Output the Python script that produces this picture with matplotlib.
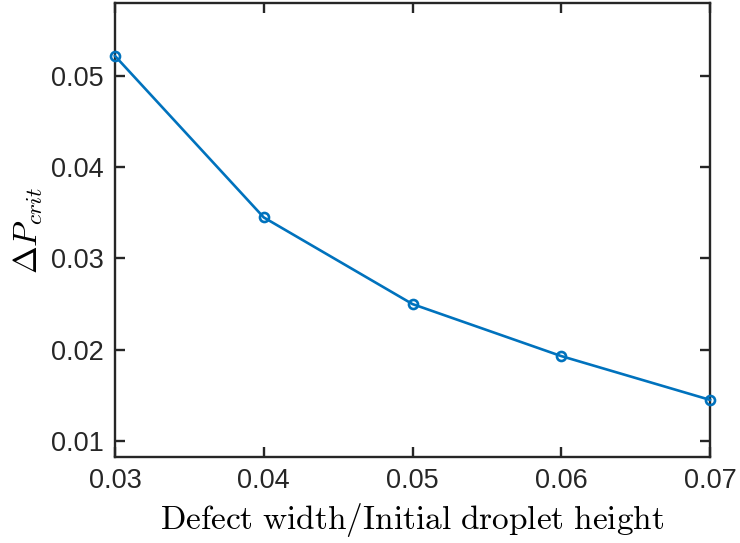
import matplotlib
matplotlib.use('Agg')
import matplotlib.pyplot as plt

# data
ratio = [0.03, 0.04, 0.05, 0.06, 0.07]
dp_crit = [0.0522, 0.0345, 0.0250, 0.0193, 0.0145]

xticks = [0.03, 0.04, 0.05, 0.06, 0.07]
yticks = [0.01, 0.02, 0.03, 0.04, 0.05]

plt.rcParams['font.family'] = ['Liberation Sans', 'DejaVu Sans']
plt.rcParams['mathtext.fontset'] = 'cm'

fig = plt.figure(figsize=(7.4, 5.43), dpi=100)
ax = fig.add_axes([0.1554, 0.1584, 0.8041, 0.8360])

ax.plot(ratio, dp_crit, '-o', color='#0072BD', lw=1.9, ms=6.5,
        mfc='none', mew=1.9, clip_on=False, zorder=3)

ax.set_xlim(0.03, 0.07)
ax.set_ylim(0.00824, 0.058)
ax.set_xticks(xticks)
ax.set_yticks(yticks)
ax.set_xticklabels(['%.2f' % v for v in xticks])
ax.set_yticklabels(['%.2f' % v for v in yticks])

for s in ax.spines.values():
    s.set_linewidth(1.7)
    s.set_color('#262626')
ax.tick_params(direction='in', length=7, width=1.7, color='#262626',
               labelsize=19.5, labelcolor='#262626', top=True, right=True,
               pad=8)

ax.set_xlabel(r'$\mathrm{Defect\ width/Initial\ droplet\ height}$', fontsize=24,
              labelpad=5)
ax.set_ylabel(r'$\Delta P_{crit}$', fontsize=24, labelpad=4)

fig.savefig('out.png', dpi=100)
